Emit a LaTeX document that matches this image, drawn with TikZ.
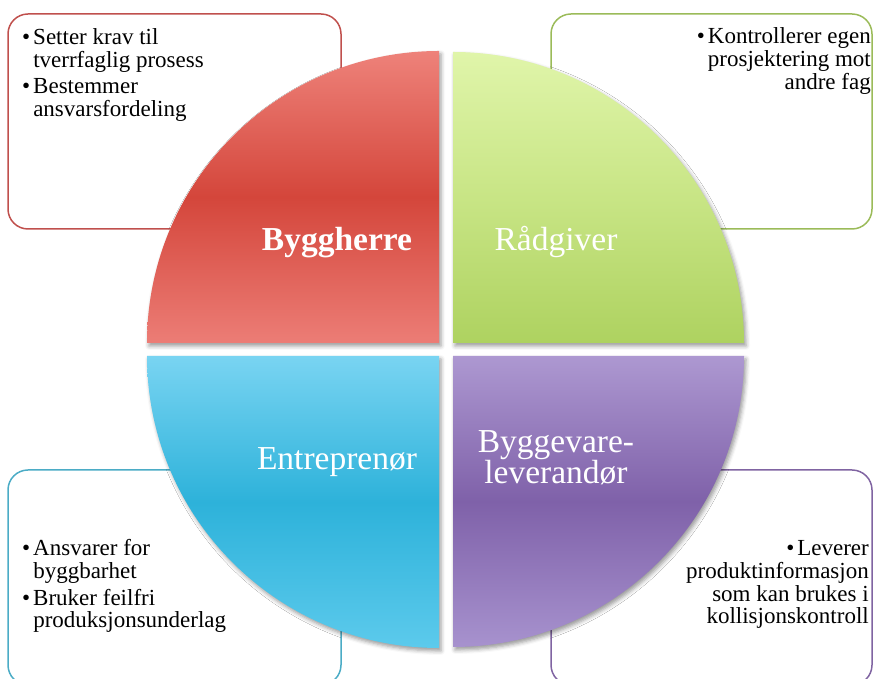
\documentclass[tikz,border=0pt]{standalone}
\usepackage{fontspec}
\setmainfont{Liberation Serif}
\usetikzlibrary{shadows.blur}
\definecolor{redline}{HTML}{C0504D}
\definecolor{greenline}{HTML}{9BBB59}
\definecolor{blueline}{HTML}{4BACC6}
\definecolor{purpleline}{HTML}{8064A2}
\definecolor{redtop}{HTML}{EE827A}
\definecolor{redmid}{HTML}{D4463B}
\definecolor{redbot}{HTML}{EC7D76}
\definecolor{greentop}{HTML}{E0F5AA}
\definecolor{greenmid}{HTML}{C8E585}
\definecolor{greenbot}{HTML}{AED260}
\definecolor{bluetop}{HTML}{79D4F2}
\definecolor{bluemid}{HTML}{2DB2DA}
\definecolor{bluebot}{HTML}{5CCAEC}
\definecolor{purpletop}{HTML}{AD98D1}
\definecolor{purplemid}{HTML}{7F61A9}
\definecolor{purplebot}{HTML}{A792CE}
\begin{document}
\begin{tikzpicture}[x=1pt,y=1pt,
  infobox/.style={rounded corners=20pt, line width=1.5pt, fill=white},
  quarter/.style={blur shadow={shadow xshift=2pt, shadow yshift=-3pt, shadow blur radius=4pt, shadow opacity=40}},
  qlabel/.style={text=white, font=\fontsize{33.5}{31}\selectfont, inner sep=0pt, align=center},
  boxtext/.style={font=\fontsize{23}{22}\selectfont, inner sep=0pt}]
\useasboundingbox (0,0) rectangle (873,679);

% info boxes
\draw[infobox, draw=redline] (8,665) rectangle (341,450);
\draw[infobox, draw=greenline] (551,665) rectangle (872,450);
\draw[infobox, draw=blueline] (8,209) rectangle (341,-6);
\draw[infobox, draw=purpleline] (551,209) rectangle (872,-6);

% quarters
\path[quarter, top color=redtop, bottom color=redbot, middle color=redmid]
  (439,336) -- (147,336) arc[start angle=180, end angle=90, radius=292] -- cycle;
\path[quarter, top color=greentop, bottom color=greenbot, middle color=greenmid]
  (453,336) -- (744,336) arc[start angle=0, end angle=90, radius=291] -- cycle;
\path[quarter, top color=bluetop, bottom color=bluebot, middle color=bluemid]
  (439,323) -- (147,323) arc[start angle=180, end angle=270, radius=292] -- cycle;
\path[quarter, top color=purpletop, bottom color=purplebot, middle color=purplemid]
  (453,323) -- (744,323) arc[start angle=0, end angle=-90, radius=291] -- cycle;

% quarter labels
\node[qlabel, anchor=base] (byggherre) at (337,428) {\bfseries Byggherre};
\node[qlabel, anchor=base] (radgiver) at (556,428) {Rådgiver};
\node[qlabel, anchor=base] (entreprenor) at (337,209) {Entreprenør};
\node[qlabel, anchor=base] (leverandor) at (556,226)
  {\begin{tabular}[t]{@{}c@{}}Byggevare-\\[-2pt] leverandør\end{tabular}};

% box texts
\node[boxtext, anchor=base west] (tltext) at (22,634)
  {\begin{tabular}[t]{@{}l@{\hspace{3pt}}l@{}}
   \textbullet & Setter krav til\\
               & tverrfaglig prosess\\[4pt]
   \textbullet & Bestemmer\\
               & ansvarsfordeling
   \end{tabular}};
\node[boxtext, anchor=base east] (trtext) at (871,635)
  {\begin{tabular}[t]{@{}r@{}}
   \textbullet\hspace{3pt}Kontrollerer egen\\
   prosjektering mot\\
   andre fag
   \end{tabular}};
\node[boxtext, anchor=base west] (bltext) at (22,123)
  {\begin{tabular}[t]{@{}l@{\hspace{3pt}}l@{}}
   \textbullet & Ansvarer for\\
               & byggbarhet\\[4pt]
   \textbullet & Bruker feilfri\\
               & produksjonsunderlag
   \end{tabular}};
\node[boxtext, anchor=base east] (brtext) at (869,123)
  {\begin{tabular}[t]{@{}r@{}}
   \textbullet\hspace{3pt}Leverer\\
   produktinformasjon\\
   som kan brukes i\\
   kollisjonskontroll
   \end{tabular}};
\end{tikzpicture}
\end{document}
